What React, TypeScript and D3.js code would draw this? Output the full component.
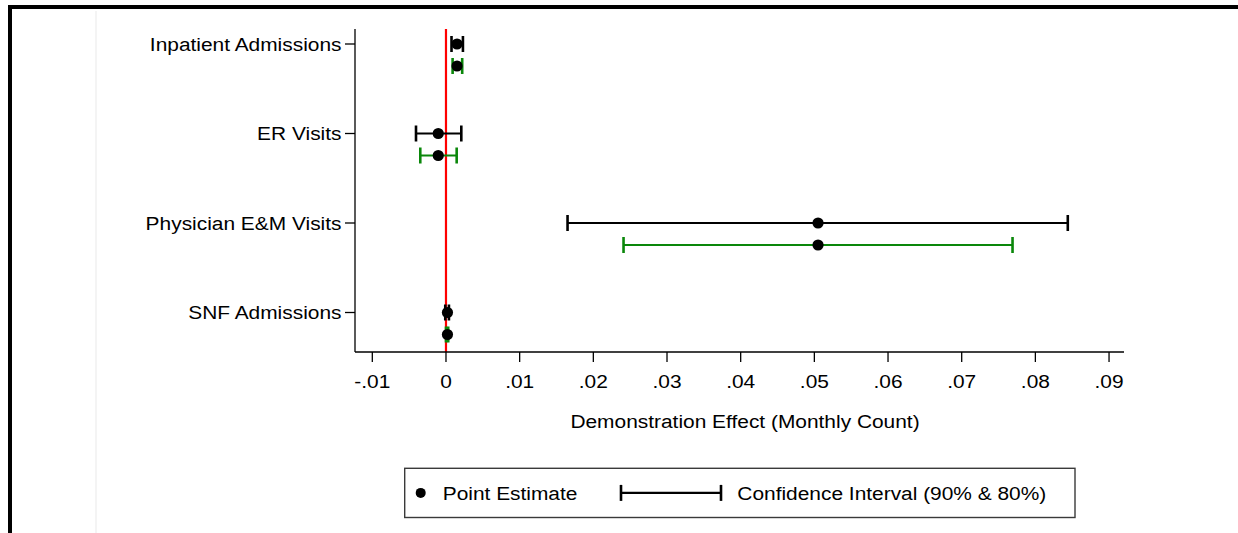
import React from 'react';
import * as d3 from 'd3';

// values
const categories = ['Inpatient Admissions', 'ER Visits', 'Physician E&M Visits', 'SNF Admissions'];
const pointEstimates = [0.0015, -0.00105, 0.0505, 0.0002];
const ci90Low = [0.00075, -0.00407, 0.0165, -0.0001];
const ci90High = [0.0023, 0.00208, 0.0844, 0.0004];
const ci80Low = [0.0009, -0.00349, 0.0241, 0.0];
const ci80High = [0.0022, 0.00145, 0.0769, 0.0003];
const xTicks = [-0.01, 0, 0.01, 0.02, 0.03, 0.04, 0.05, 0.06, 0.07, 0.08, 0.09];
const xTickLabels = ['-.01', '0', '.01', '.02', '.03', '.04', '.05', '.06', '.07', '.08', '.09'];
const xTitle = 'Demonstration Effect (Monthly Count)';
const legendLabels = ['Point Estimate', 'Confidence Interval (90% & 80%)'];

const W = 1238;
const H = 533;
const FONT = "'Liberation Sans', Arial, sans-serif";
const FS = 19;
const SX = 1.1; // the picture is slightly stretched sideways

const GREEN = '#0a870a';

// Stata-ish text, stretched a bit horizontally
const Txt = ({ x, y, anchor = 'start', children }: any) => (
	<text
		transform={`translate(${x},${y}) scale(${SX},1)`}
		textAnchor={anchor}
		dy="0.35em"
		fontFamily={FONT}
		fontSize={FS}
		fill="#000"
	>
		{children}
	</text>
);

const CI = ({ x0, x1, y, color, cap = 8 }: any) => (
	<g stroke={color} strokeWidth={2.2} fill="none">
		<line x1={x0} x2={x1} y1={y} y2={y} />
		<line x1={x0} x2={x0} y1={y - cap} y2={y + cap} strokeWidth={2.6} />
		<line x1={x1} x2={x1} y1={y - cap} y2={y + cap} strokeWidth={2.6} />
	</g>
);

export default function App() {
	const plotLeft = 355;
	const plotRight = 1124;
	const plotTop = 29;
	const plotBottom = 352;

	const x = d3.scaleLinear().domain([-0.01235, 0.09203]).range([plotLeft, plotRight]);
	const y = d3.scalePoint<string>().domain(categories).range([44, 312.5]);
	const offset80 = 22;

	const data = categories.map((c, i) => ({
		cat: c,
		est: pointEstimates[i],
		lo90: ci90Low[i],
		hi90: ci90High[i],
		lo80: ci80Low[i],
		hi80: ci80High[i],
	}));

	// legend box
	const lg = { x: 404.7, y: 468.3, w: 670.3, h: 49.2 };
	const lgMid = lg.y + lg.h / 2;

	return (
		<div style={{ position: 'fixed', left: 0, top: 0, width: W, height: H, background: '#fff' }}>
			<svg width={W} height={H} style={{ display: 'block' }}>
				{/* outer frame, cropped on the right and bottom */}
				<line x1={8} x2={W} y1={7} y2={7} stroke="#000" strokeWidth={4} />
				<line x1={10} x2={10} y1={5} y2={H} stroke="#000" strokeWidth={4} />
				<line x1={96} x2={96} y1={11} y2={H} stroke="#e9e9e9" strokeWidth={1} />

				{/* zero line */}
				<line x1={x(0)} x2={x(0)} y1={plotTop} y2={plotBottom} stroke="#ff0000" strokeWidth={2.2} />

				{/* axes */}
				<line x1={plotLeft} x2={plotLeft} y1={plotTop} y2={plotBottom} stroke="#000" strokeWidth={1.3} />
				<line x1={plotLeft} x2={plotRight} y1={plotBottom} y2={plotBottom} stroke="#000" strokeWidth={1.3} />

				{categories.map((c) => (
					<g key={c}>
						<line x1={plotLeft - 10} x2={plotLeft} y1={y(c)} y2={y(c)} stroke="#000" strokeWidth={1.3} />
						<Txt x={341.5} y={y(c)!} anchor="end">{c}</Txt>
					</g>
				))}

				{xTicks.map((t, i) => (
					<g key={t}>
						<line x1={x(t)} x2={x(t)} y1={plotBottom} y2={plotBottom + 10} stroke="#000" strokeWidth={1.3} />
						<Txt x={x(t)} y={381} anchor="middle">{xTickLabels[i]}</Txt>
					</g>
				))}

				<Txt x={(plotLeft + plotRight) / 2 + 5.5} y={421} anchor="middle">{xTitle}</Txt>

				{/* intervals and estimates */}
				{data.map((d) => {
					const yy = y(d.cat)!;
					return (
						<g key={d.cat}>
							<CI x0={x(d.lo90)} x1={x(d.hi90)} y={yy} color="#000" />
							<CI x0={x(d.lo80)} x1={x(d.hi80)} y={yy + offset80} color={GREEN} />
							<circle cx={x(d.est)} cy={yy} r={5.6} fill="#000" />
							<circle cx={x(d.est)} cy={yy + offset80} r={5.6} fill="#000" />
						</g>
					);
				})}

				{/* legend */}
				<rect x={lg.x} y={lg.y} width={lg.w} height={lg.h} fill="#fff" stroke="#3a3a3a" strokeWidth={1.4} />
				<circle cx={420.7} cy={lgMid} r={5} fill="#000" />
				<Txt x={442.7} y={lgMid}>{legendLabels[0]}</Txt>
				<CI x0={621} x1={721} y={lgMid} color="#000" />
				<Txt x={737.3} y={lgMid}>{legendLabels[1]}</Txt>
			</svg>
		</div>
	);
}
